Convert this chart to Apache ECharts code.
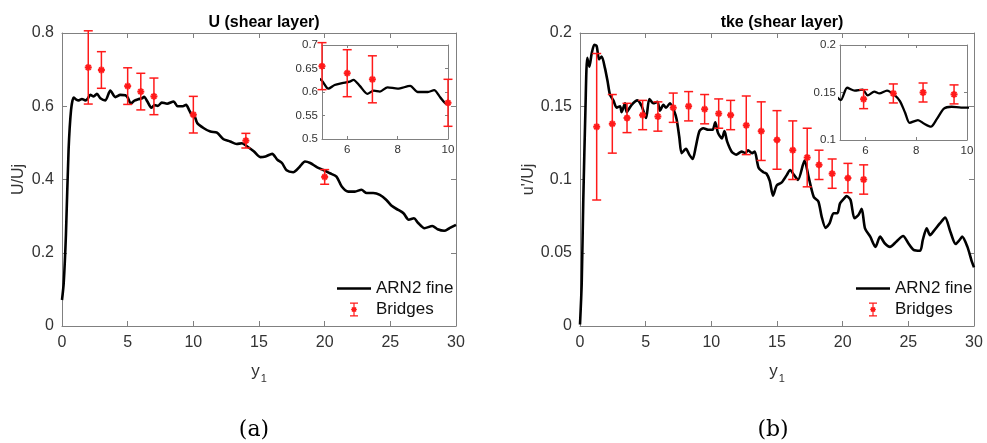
<!DOCTYPE html>
<html>
<head>
<meta charset="utf-8">
<script src="https://cdn.jsdelivr.net/npm/echarts@6/dist/echarts.min.js"></script>
<style>
  html, body { margin: 0; padding: 0; background: #fff; }
  #main { width: 987px; height: 443px; }
</style>
</head>
<body>
<div id="main"></div>
<script>
// U / Uj along the shear layer, ARN2 fine  [y1, value]
var uCurve = [
  [0, 0.071], [0.13, 0.117], [0.3, 0.25], [0.5, 0.48], [0.69, 0.59], [0.89, 0.624],
  [1.09, 0.618], [1.27, 0.616], [1.52, 0.62], [1.78, 0.616], [1.95, 0.62], [2.16, 0.631],
  [2.41, 0.627], [2.66, 0.634], [2.92, 0.622], [3.3, 0.616], [3.68, 0.643], [4.06, 0.625],
  [4.44, 0.631], [4.82, 0.63], [5.0, 0.624], [5.25, 0.607], [5.5, 0.615], [5.8, 0.619],
  [6.1, 0.622], [6.25, 0.626], [6.5, 0.613], [6.8, 0.596], [7.05, 0.603], [7.3, 0.601],
  [7.6, 0.61], [8.0, 0.607], [8.5, 0.613], [8.8, 0.6], [9.2, 0.6], [9.45, 0.604],
  [9.7, 0.588], [9.95, 0.574], [10.05, 0.576], [10.3, 0.554], [10.8, 0.54], [11.3, 0.531],
  [11.8, 0.528], [12.3, 0.51], [12.8, 0.504], [13.3, 0.497], [13.7, 0.499], [14.1, 0.49],
  [14.6, 0.477], [15.1, 0.461], [15.5, 0.463], [16.0, 0.47], [16.4, 0.454], [16.75, 0.445],
  [17.1, 0.425], [17.6, 0.42], [18.1, 0.435], [18.5, 0.449], [18.9, 0.445], [19.4, 0.434],
  [19.9, 0.426], [20.4, 0.417], [20.9, 0.408], [21.3, 0.381], [21.8, 0.367], [22.3, 0.367],
  [22.8, 0.372], [23.2, 0.363], [23.7, 0.363], [24.2, 0.358], [24.7, 0.344], [25.1, 0.328],
  [25.6, 0.317], [26.0, 0.308], [26.4, 0.29], [26.8, 0.294], [27.1, 0.282], [27.6, 0.267],
  [28.2, 0.273], [28.6, 0.264], [29.1, 0.26], [29.5, 0.267], [30, 0.276]
];

// u' / Uj (tke), ARN2 fine
var tkeCurve = [
  [0, 0.001], [0.13, 0.029], [0.25, 0.086], [0.42, 0.15], [0.55, 0.183], [0.71, 0.177],
  [0.89, 0.186], [1.09, 0.192], [1.27, 0.191], [1.45, 0.182], [1.65, 0.184], [1.9, 0.176],
  [2.1, 0.167], [2.28, 0.158], [2.54, 0.154], [2.79, 0.149], [3.05, 0.15], [3.17, 0.146],
  [3.43, 0.152], [3.55, 0.146], [3.93, 0.151], [4.37, 0.154], [4.7, 0.15], [5.03, 0.142],
  [5.28, 0.155], [5.58, 0.152], [5.89, 0.153], [6.09, 0.147], [6.35, 0.151], [6.55, 0.149],
  [6.85, 0.152], [7.16, 0.147], [7.36, 0.141], [7.56, 0.129], [7.74, 0.118], [8.07, 0.121],
  [8.32, 0.117], [8.58, 0.114], [8.81, 0.122], [9.09, 0.133], [9.39, 0.135], [9.77, 0.134],
  [10.1, 0.134], [10.3, 0.139], [10.5, 0.132], [10.8, 0.128], [11.0, 0.133], [11.2, 0.126],
  [11.55, 0.119], [11.9, 0.117], [12.3, 0.119], [12.6, 0.118], [12.8, 0.12], [13.1, 0.118],
  [13.3, 0.119], [13.6, 0.108], [13.96, 0.105], [14.2, 0.104], [14.45, 0.099], [14.7, 0.089],
  [14.98, 0.096], [15.36, 0.098], [15.74, 0.103], [16.0, 0.1065], [16.3, 0.103], [16.6, 0.0997],
  [17.1, 0.113], [17.4, 0.102], [17.8, 0.088], [18.15, 0.085], [18.4, 0.0747], [18.7, 0.067],
  [19.0, 0.07], [19.3, 0.077], [19.6, 0.077], [19.8, 0.0837], [20.1, 0.087], [20.3, 0.0887],
  [20.6, 0.086], [20.9, 0.0735], [21.2, 0.0758], [21.45, 0.08], [21.7, 0.0667], [22.1, 0.061],
  [22.5, 0.054], [22.85, 0.061], [23.2, 0.0565], [23.6, 0.054], [24.1, 0.0577], [24.6, 0.0614],
  [25.0, 0.0565], [25.4, 0.052], [25.9, 0.0514], [26.1, 0.0587], [26.4, 0.0667], [26.65, 0.062],
  [26.9, 0.0644], [27.4, 0.07], [27.8, 0.074], [28.2, 0.0644], [28.6, 0.056], [28.9, 0.0587],
  [29.1, 0.061], [29.5, 0.054], [29.8, 0.045], [30, 0.04]
];

// Bridges measurements  [y1, value, half error bar]
var bridgesU = [
  [2, 0.706, 0.1], [3, 0.699, 0.05], [5, 0.655, 0.05], [6, 0.64, 0.05],
  [7, 0.627, 0.05], [10, 0.577, 0.05], [14, 0.506, 0.02], [20, 0.407, 0.02]
];
var bridgesTke = [
  [1.27, 0.136, 0.05], [2.46, 0.138, 0.02], [3.58, 0.142, 0.01], [4.77, 0.144, 0.01],
  [5.93, 0.143, 0.01], [7.1, 0.149, 0.01], [8.27, 0.15, 0.01], [9.49, 0.148, 0.01],
  [10.56, 0.145, 0.01], [11.47, 0.144, 0.01], [12.66, 0.137, 0.02], [13.8, 0.133, 0.02],
  [15.0, 0.127, 0.02], [16.2, 0.12, 0.02], [17.3, 0.115, 0.02], [18.2, 0.11, 0.01],
  [19.2, 0.104, 0.01], [20.4, 0.101, 0.01], [21.6, 0.1, 0.01]
];

var insetTicksX = [6, 8, 10];

var FONT = 'Liberation Sans, Arial, sans-serif';
var RED = '#ff1a1a';
var AXIS_C = '#808080';
var LABEL_C = '#333';

var chart = echarts.init(document.getElementById('main'));

// error bar + asterisk, MATLAB errorbar style
function errRender(cap, star) {
  return function (params, api) {
    var x = api.value(0), y = api.value(1), e = api.value(2);
    var lo = api.coord([x, y - e]);
    var hi = api.coord([x, y + e]);
    var c = api.coord([x, y]);
    var st = { stroke: RED, lineWidth: 1.5 };
    var sst = { stroke: RED, lineWidth: 2 };
    var d = star * 0.7;
    return {
      type: 'group',
      children: [
        { type: 'line', shape: { x1: lo[0], y1: lo[1], x2: hi[0], y2: hi[1] }, style: st },
        { type: 'line', shape: { x1: lo[0] - cap, y1: lo[1], x2: lo[0] + cap, y2: lo[1] }, style: st },
        { type: 'line', shape: { x1: hi[0] - cap, y1: hi[1], x2: hi[0] + cap, y2: hi[1] }, style: st },
        { type: 'line', shape: { x1: c[0] - star, y1: c[1], x2: c[0] + star, y2: c[1] }, style: sst },
        { type: 'line', shape: { x1: c[0], y1: c[1] - star, x2: c[0], y2: c[1] + star }, style: sst },
        { type: 'line', shape: { x1: c[0] - d, y1: c[1] - d, x2: c[0] + d, y2: c[1] + d }, style: sst },
        { type: 'line', shape: { x1: c[0] - d, y1: c[1] + d, x2: c[0] + d, y2: c[1] - d }, style: sst }
      ]
    };
  };
}

function inRange(arr) {
  return arr.filter(function (d) { return d[0] >= 5 && d[0] <= 10; });
}

var grids = [
  { left: 62, top: 33, width: 394, height: 293 },
  { left: 580, top: 33, width: 394, height: 293 },
  { left: 322, top: 45, width: 126, height: 94, show: true, backgroundColor: '#fff', borderWidth: 0 },
  { left: 840, top: 45, width: 127, height: 95, show: true, backgroundColor: '#fff', borderWidth: 0 }
];

function xPair(g, min, max, interval, fs, tick, custom, withName) {
  var lab = { color: LABEL_C, fontSize: fs, fontFamily: FONT, margin: fs > 13 ? 9 : 5 };
  var tk = { inside: true, length: tick, lineStyle: { color: AXIS_C } };
  if (custom) { lab.customValues = custom; tk.customValues = custom; }
  var bottom = {
    type: 'value', gridIndex: g, position: 'bottom', min: min, max: max, interval: interval,
    axisLine: { onZero: false, lineStyle: { color: AXIS_C, width: 1 } },
    axisTick: tk, axisLabel: lab, splitLine: { show: false }
  };
  if (withName) {
    bottom.name = 'y{s|1}';
    bottom.nameLocation = 'middle';
    bottom.nameGap = 33;
    bottom.nameTextStyle = {
      fontSize: 17, fontFamily: FONT, color: LABEL_C,
      rich: { s: { fontSize: 11, fontFamily: FONT, color: LABEL_C, padding: [14, 0, 0, 1] } }
    };
  }
  var top = {
    type: 'value', gridIndex: g, position: 'top', min: min, max: max, interval: interval,
    axisLine: { onZero: false, lineStyle: { color: AXIS_C, width: 1 } },
    axisTick: custom ? { inside: true, length: tick, customValues: custom, lineStyle: { color: AXIS_C } }
                     : { inside: true, length: tick, lineStyle: { color: AXIS_C } },
    axisLabel: { show: false }, splitLine: { show: false }
  };
  return [bottom, top];
}

function yPair(g, min, max, interval, fs, tick, name, gap) {
  var left = {
    type: 'value', gridIndex: g, position: 'left', min: min, max: max, interval: interval,
    axisLine: { onZero: false, lineStyle: { color: AXIS_C, width: 1 } },
    axisTick: { inside: true, length: tick, lineStyle: { color: AXIS_C } },
    axisLabel: { color: LABEL_C, fontSize: fs, fontFamily: FONT, margin: fs > 13 ? 8 : 4 },
    splitLine: { show: false }
  };
  if (name) {
    left.name = name;
    left.nameLocation = 'middle';
    left.nameGap = gap;
    left.nameTextStyle = { fontSize: 16, fontFamily: FONT, color: LABEL_C };
  }
  var right = {
    type: 'value', gridIndex: g, position: 'right', min: min, max: max, interval: interval,
    axisLine: { onZero: false, lineStyle: { color: AXIS_C, width: 1 } },
    axisTick: { inside: true, length: tick, lineStyle: { color: AXIS_C } },
    axisLabel: { show: false }, splitLine: { show: false }
  };
  return [left, right];
}

var xAxes = [].concat(
  xPair(0, 0, 30, 5, 16, 5, null, true),
  xPair(1, 0, 30, 5, 16, 5, null, true),
  xPair(2, 5, 10, 1, 11.5, 3, insetTicksX, false),
  xPair(3, 5, 10, 1, 11.5, 3, insetTicksX, false)
);
var yAxes = [].concat(
  yPair(0, 0, 0.8, 0.2, 16, 5, 'U/Uj', 35),
  yPair(1, 0, 0.2, 0.05, 16, 5, "u'/Uj", 42),
  yPair(2, 0.5, 0.7, 0.05, 11.5, 3, null, 0),
  yPair(3, 0.1, 0.2, 0.05, 11.5, 3, null, 0)
);

function lineSeries(name, data, ax, w) {
  return {
    name: name, type: 'line', data: data, xAxisIndex: ax, yAxisIndex: ax,
    showSymbol: false, symbol: 'none', smooth: 0.25, clip: true,
    lineStyle: { color: '#000', width: w }, itemStyle: { color: '#000' },
    z: 3, animation: false
  };
}
function errSeries(name, data, ax) {
  return {
    name: name, type: 'custom', data: data, xAxisIndex: ax, yAxisIndex: ax,
    renderItem: errRender(4.5, 3.5), itemStyle: { color: RED },
    encode: { x: 0, y: 1 }, z: 4, animation: false
  };
}

var lineIcon = 'path://M0,0H34V2.6H0Z';
var bridgesIcon = 'path://M0,0H8V1.2H0Z M0,12.8H8V14H0Z M3.4,0H4.6V14H3.4Z M1.8,4.8H6.2V9.2H1.8Z M4,3.9L7.1,7L4,10.1L0.9,7Z';

function legendAt(left) {
  return {
    left: left, top: 275, orient: 'vertical', itemWidth: 34, itemHeight: 14, itemGap: 4,
    textStyle: { fontSize: 17, fontFamily: FONT, color: '#111' },
    data: [{ name: 'ARN2 fine', icon: lineIcon }, { name: 'Bridges', icon: bridgesIcon }],
    selectedMode: false
  };
}

var option = {
  backgroundColor: '#fff',
  animation: false,
  title: [
    { text: 'U (shear layer)', left: 259, top: 10, textAlign: 'center',
      textStyle: { fontSize: 16, fontWeight: 'bold', color: '#000', fontFamily: FONT } },
    { text: 'tke (shear layer)', left: 777, top: 10, textAlign: 'center',
      textStyle: { fontSize: 16, fontWeight: 'bold', color: '#000', fontFamily: FONT } },
    { text: '(a)', left: 249, top: 414, textAlign: 'center',
      textStyle: { fontSize: 22, fontWeight: 'normal', color: '#000', fontFamily: 'DejaVu Serif, serif' } },
    { text: '(b)', left: 768, top: 414, textAlign: 'center',
      textStyle: { fontSize: 22, fontWeight: 'normal', color: '#000', fontFamily: 'DejaVu Serif, serif' } }
  ],
  legend: [legendAt(332), legendAt(851)],
  grid: grids,
  xAxis: xAxes,
  yAxis: yAxes,
  series: [
    lineSeries('ARN2 fine', uCurve, 0, 2.6),
    errSeries('Bridges', bridgesU, 0),
    lineSeries('ARN2 fine', tkeCurve, 2, 2.6),
    errSeries('Bridges', bridgesTke, 2),
    lineSeries('ARN2 fine', uCurve, 4, 2.3),
    errSeries('Bridges', inRange(bridgesU), 4),
    lineSeries('ARN2 fine', tkeCurve, 6, 2.3),
    errSeries('Bridges', inRange(bridgesTke), 6)
  ]
};

chart.setOption(option);
</script>
</body>
</html>
